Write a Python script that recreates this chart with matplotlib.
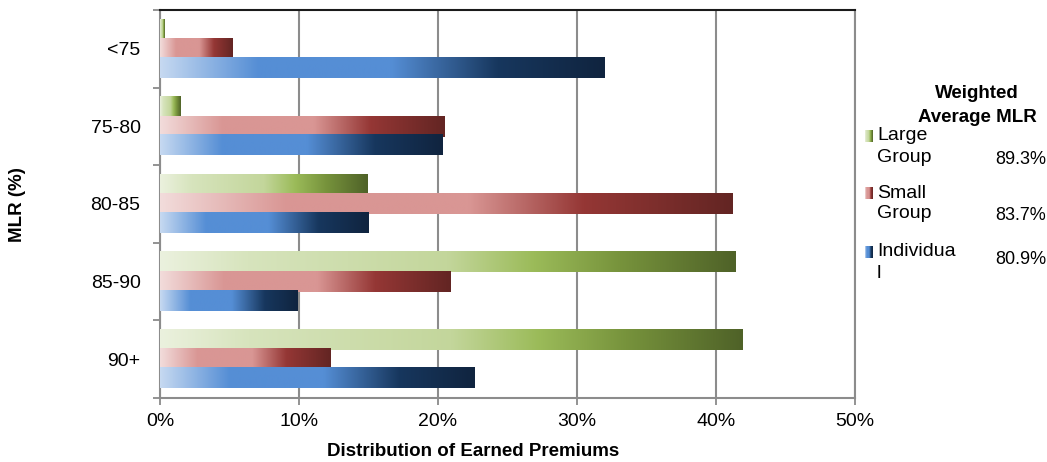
import numpy as np
import matplotlib
matplotlib.use("Agg")
import matplotlib.pyplot as plt
from matplotlib.colors import LinearSegmentedColormap

plt.rcParams['font.family'] = ['Liberation Sans', 'DejaVu Sans']

categories = ["<75", "75-80", "80-85", "85-90", "90+"]
series_names = [["Large", "Group"], ["Small", "Group"], ["Individua", "l"]]
large_group = [0.3, 1.5, 14.9, 41.4, 41.9]
small_group = [5.2, 20.5, 41.2, 20.9, 12.3]
individual = [32.0, 20.3, 15.0, 9.9, 22.6]
weighted_mlr = ["89.3%", "83.7%", "80.9%"]
xticks = [0, 10, 20, 30, 40, 50]

cmaps = [
    LinearSegmentedColormap.from_list("g", [(0, "#ebf1de"), (0.15, "#d7e4bd"), (0.5, "#c3d69b"),
                                            (0.65, "#9bbb59"), (0.8, "#77933c"), (1, "#4f6228")]),
    LinearSegmentedColormap.from_list("r", [(0, "#f2dcdb"), (0.22, "#d99694"), (0.54, "#d99694"),
                                            (0.74, "#953735"), (1, "#632523")]),
    LinearSegmentedColormap.from_list("b", [(0, "#c6d9f1"), (0.22, "#558ed5"), (0.52, "#558ed5"),
                                            (0.76, "#17375e"), (1, "#10243f")]),
]

fig = plt.figure(figsize=(10.47, 4.62), dpi=100)
ax = fig.add_axes([160/1047, 1-398/462, (855-160)/1047, (398-10)/462])

grad = np.linspace(0, 1, 256).reshape(1, -1)
offsets = [-0.25, 0.0, 0.24]
h = 0.265
data = [large_group, small_group, individual]
for s, (vals, off, cm) in enumerate(zip(data, offsets, cmaps)):
    for i, v in enumerate(vals):
        yc = i + off
        ax.imshow(grad, cmap=cm, aspect='auto', extent=(0, v, yc + h/2, yc - h/2),
                  interpolation='bilinear', zorder=3)

ax.set_xlim(0, 50)
ax.set_ylim(len(categories) - 0.5, -0.5)
ax.set_xticks(xticks)
ax.set_xticklabels([f"{t}%" for t in xticks], fontsize=14)
ax.set_yticks(range(len(categories)))
ax.set_yticklabels(categories, fontsize=14)
ax.set_yticks(np.arange(-0.5, len(categories), 1), minor=True)
ax.tick_params(axis='y', which='major', length=0, pad=14)
ax.tick_params(axis='y', which='minor', length=5, color='#808080', width=1.2)
ax.tick_params(axis='x', length=5, color='#808080', width=1.2, pad=6)
ax.grid(axis='x', color='#8c8c8c', lw=1.5, zorder=1)
ax.set_axisbelow(True)
for sp in ['left', 'bottom', 'right']:
    ax.spines[sp].set_color('#8c8c8c')
    ax.spines[sp].set_linewidth(1.5)
ax.spines['top'].set_color('#1a1a1a')
ax.spines['top'].set_linewidth(1.5)

fig.text(473/1047, 1-452/462, "Distribution of Earned Premiums", ha='center', va='center',
         fontsize=13.5, fontweight='bold')
fig.text(18/1047, 1-205/462, "MLR (%)", ha='center', va='center', rotation=90,
         fontsize=13.5, fontweight='bold')

# legend-like panel
fig.text(977/1047, 1-93/462, "Weighted", ha='center', va='center', fontsize=13.5, fontweight='bold')
fig.text(977/1047, 1-117/462, "Average MLR", ha='center', va='center', fontsize=13.5, fontweight='bold')
line1_y = [136, 193, 252]
val_y = [160, 216, 259]
for s, (name, val, y, vy) in enumerate(zip(series_names, weighted_mlr, line1_y, val_y)):
    mx = fig.add_axes([865/1047, 1-(y+6)/462, 7/1047, 12/462])
    mx.imshow(grad, cmap=cmaps[s], aspect='auto')
    mx.axis('off')
    fig.text(877/1047, 1-y/462, name[0], ha='left', va='center', fontsize=14)
    fig.text(877/1047, 1-(y+21)/462, name[1], ha='left', va='center', fontsize=14)
    fig.text(1046/1047, 1-vy/462, val, ha='right', va='center', fontsize=13)

fig.savefig("out.png", dpi=100)
